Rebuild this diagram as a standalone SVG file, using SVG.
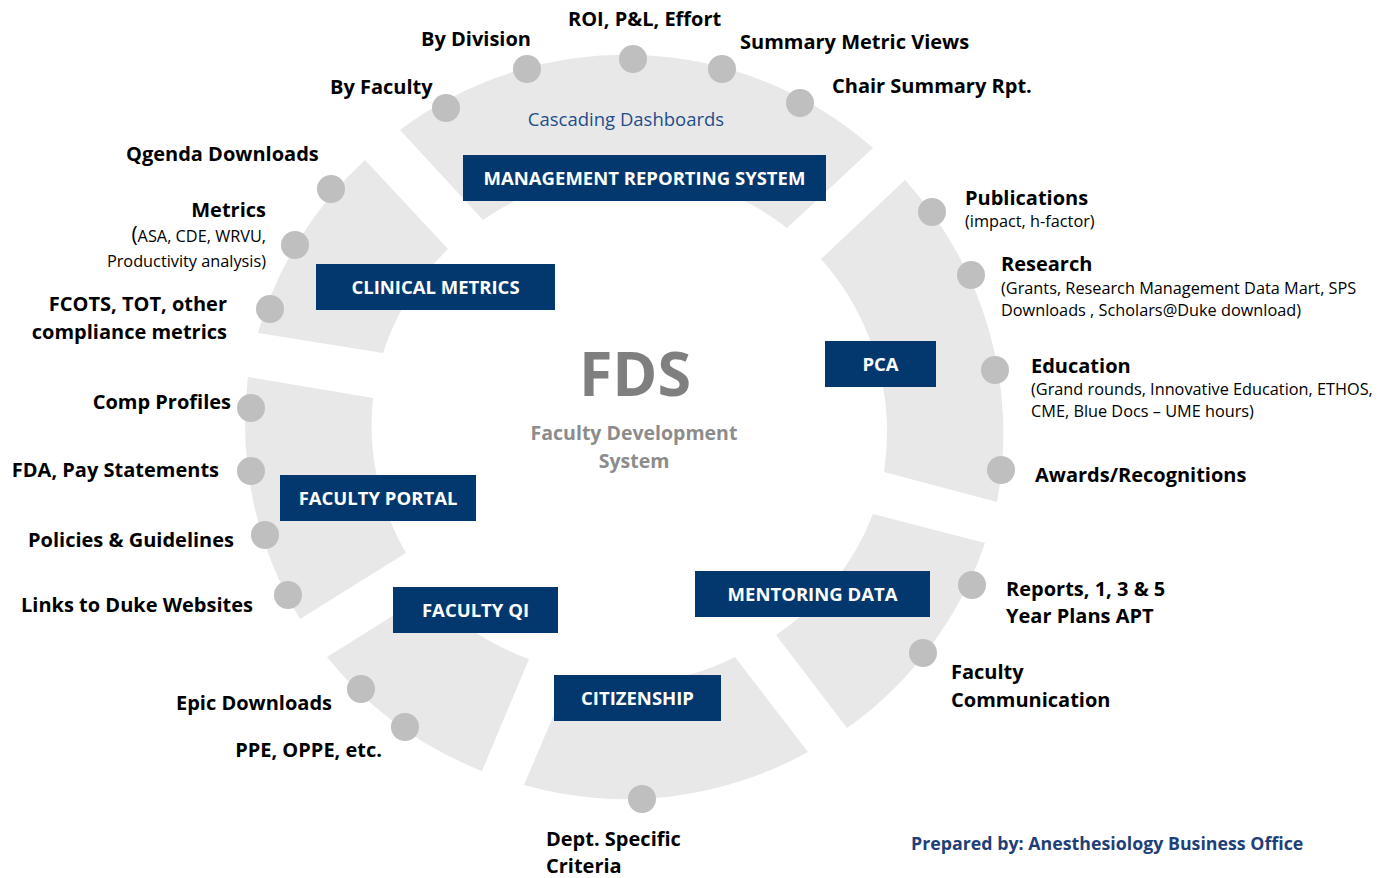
<svg xmlns="http://www.w3.org/2000/svg" width="1379" height="878" viewBox="0 0 1379 878">
<style>
.seg{fill:#e8e8e8}
.dot{fill:#bfbfbf}
.box{fill:#03386f}
.bt{font-family:"Open Sans","Liberation Sans",sans-serif;font-weight:bold;font-size:18.5px;fill:#fff;text-anchor:middle}
.lb{font-family:"Open Sans","Liberation Sans",sans-serif;font-weight:bold;font-size:20px;fill:#000}
.sm{font-family:"Open Sans","Liberation Sans",sans-serif;font-size:16.3px;fill:#000}
.r{text-anchor:end}
</style>
<rect width="1379" height="878" fill="#fff"/>

<g id="mrs">
<path class="seg" d="M400,130 A375,375 0 0 1 873,148 L787,228 A255,255 0 0 0 483,220 Z"/>
<circle class="dot" cx="446" cy="108" r="14"/>
<circle class="dot" cx="527" cy="69" r="14"/>
<circle class="dot" cx="633" cy="59" r="14"/>
<circle class="dot" cx="722" cy="69" r="14"/>
<circle class="dot" cx="800" cy="103" r="14"/>
<text class="lb" x="568" y="26">ROI, P&amp;L, Effort</text>
<text class="lb" x="421" y="46">By Division</text>
<text class="lb" x="740" y="49">Summary Metric Views</text>
<text class="lb" x="330" y="94">By Faculty</text>
<text class="lb" x="832" y="93">Chair Summary Rpt.</text>
<text x="626" y="126" font-family="Open Sans, Liberation Sans, sans-serif" font-size="18.5" fill="#1f4e89" text-anchor="middle">Cascading Dashboards</text>
<rect class="box" x="463" y="155" width="363" height="46"/>
<text class="bt" x="644.5" y="184.5">MANAGEMENT REPORTING SYSTEM</text>
</g>

<g id="clinical">
<path class="seg" d="M258,333 A375,375 0 0 1 365,160 L448,249 A255,255 0 0 0 383,353 Z"/>
<circle class="dot" cx="331" cy="189" r="14"/>
<circle class="dot" cx="295" cy="245" r="14"/>
<circle class="dot" cx="270" cy="309" r="14"/>
<text class="lb" x="126" y="161">Qgenda Downloads</text>
<text class="lb r" x="266" y="217">Metrics</text>
<text class="sm r" x="266" y="242"><tspan font-size="21">(</tspan>ASA, CDE, WRVU,</text>
<text class="sm r" x="266" y="267">Productivity analysis)</text>
<text class="lb r" x="227" y="311">FCOTS, TOT, other</text>
<text class="lb r" x="227" y="339">compliance metrics</text>
<rect class="box" x="316" y="264" width="239" height="46"/>
<text class="bt" x="435.5" y="293.5">CLINICAL METRICS</text>
</g>

<g id="portal">
<path class="seg" d="M300,619 A375,375 0 0 1 248,377 L373,398 A255,255 0 0 0 406,553 Z"/>
<circle class="dot" cx="251" cy="408" r="14"/>
<circle class="dot" cx="251" cy="471" r="14"/>
<circle class="dot" cx="265" cy="535" r="14"/>
<circle class="dot" cx="288" cy="595" r="14"/>
<text class="lb r" x="231" y="409">Comp Profiles</text>
<text class="lb r" x="219" y="477">FDA, Pay Statements</text>
<text class="lb r" x="234" y="547">Policies &amp; Guidelines</text>
<text class="lb r" x="253" y="612">Links to Duke Websites</text>
<rect class="box" x="280" y="475" width="196" height="46"/>
<text class="bt" x="378" y="504.5">FACULTY PORTAL</text>
</g>

<g id="qi">
<path class="seg" d="M482,771 A375,375 0 0 1 327,657 L429,593 A255,255 0 0 0 529,659 Z"/>
<circle class="dot" cx="361" cy="689" r="14"/>
<circle class="dot" cx="405" cy="727" r="14"/>
<text class="lb r" x="332" y="710">Epic Downloads</text>
<text class="lb r" x="382" y="757">PPE, OPPE, etc.</text>
<rect class="box" x="393" y="587" width="165" height="46"/>
<text class="bt" x="475.5" y="616.5">FACULTY QI</text>
</g>

<g id="citizenship">
<path class="seg" d="M808,752 A375,375 0 0 1 524,785 L569,679 A255,255 0 0 0 735,657 Z"/>
<circle class="dot" cx="642" cy="799" r="14"/>
<text class="lb" x="546" y="846">Dept. Specific</text>
<text class="lb" x="546" y="873">Criteria</text>
<rect class="box" x="554" y="675" width="167" height="46"/>
<text class="bt" x="637.5" y="704.5">CITIZENSHIP</text>
</g>

<g id="mentoring">
<path class="seg" d="M985,543 A375,375 0 0 1 847,728 L776,635 A255,255 0 0 0 873,514 Z"/>
<circle class="dot" cx="972" cy="585" r="14"/>
<circle class="dot" cx="923" cy="653" r="14"/>
<text class="lb" x="1006" y="596">Reports, 1, 3 &amp; 5</text>
<text class="lb" x="1006" y="623">Year Plans APT</text>
<text class="lb" x="951" y="679">Faculty</text>
<text class="lb" x="951" y="707">Communication</text>
<rect class="box" x="695" y="571" width="235" height="46"/>
<text class="bt" x="812.5" y="600.5">MENTORING DATA</text>
</g>

<g id="pca">
<path class="seg" d="M905,180 A375,375 0 0 1 997,502 L884,472 A260,260 0 0 0 821,259 Z"/>
<circle class="dot" cx="932" cy="212" r="14"/>
<circle class="dot" cx="971" cy="275" r="14"/>
<circle class="dot" cx="995" cy="370" r="14"/>
<circle class="dot" cx="1001" cy="470" r="14"/>
<text class="lb" x="965" y="205">Publications</text>
<text class="sm" x="965" y="227">(impact, h-factor)</text>
<text class="lb" x="1001" y="271">Research</text>
<text class="sm" x="1001" y="294">(Grants, Research Management Data Mart, SPS</text>
<text class="sm" x="1001" y="316">Downloads , Scholars@Duke download)</text>
<text class="lb" x="1031" y="373">Education</text>
<text class="sm" x="1031" y="395">(Grand rounds, Innovative Education, ETHOS,</text>
<text class="sm" x="1031" y="417">CME, Blue Docs – UME hours)</text>
<text class="lb" x="1035" y="482">Awards/Recognitions</text>
<rect class="box" x="825" y="341" width="111" height="46"/>
<text class="bt" x="880.5" y="370.5">PCA</text>
</g>

<g id="fds">
<text x="635" y="396" font-family="Open Sans, Liberation Sans, sans-serif" font-weight="bold" font-size="61" fill="#7f7f7f" text-anchor="middle">FDS</text>
<text x="634" y="440" font-family="Open Sans, Liberation Sans, sans-serif" font-weight="bold" font-size="19.5" fill="#8c8c8c" text-anchor="middle">Faculty Development</text>
<text x="634" y="468" font-family="Open Sans, Liberation Sans, sans-serif" font-weight="bold" font-size="19.5" fill="#8c8c8c" text-anchor="middle">System</text>
</g>

<g id="credit">
<text x="911" y="850" font-family="Open Sans, Liberation Sans, sans-serif" font-weight="bold" font-size="17.8" fill="#1f3f78">Prepared by: Anesthesiology Business Office</text>
</g>
</svg>
